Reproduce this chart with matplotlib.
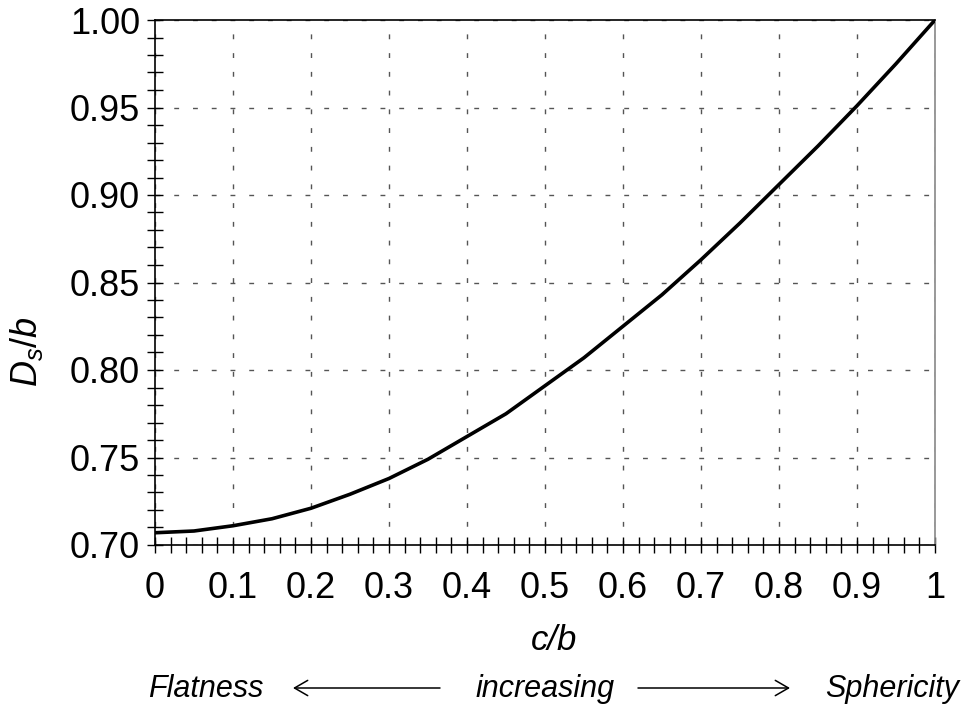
import matplotlib
matplotlib.use("Agg")
import matplotlib.pyplot as plt
from matplotlib.ticker import MultipleLocator
from matplotlib.patches import FancyArrowPatch

plt.rcParams['font.family'] = ['Liberation Sans', 'DejaVu Sans']
plt.rcParams['mathtext.fontset'] = 'custom'
plt.rcParams['mathtext.it'] = 'Liberation Sans:italic'
plt.rcParams['mathtext.rm'] = 'Liberation Sans'

cb = [0.0, 0.05, 0.1, 0.15, 0.2, 0.25, 0.3, 0.35, 0.4, 0.45, 0.5,
      0.55, 0.6, 0.65, 0.7, 0.75, 0.8, 0.85, 0.9, 0.95, 1.0]
dsb = [0.707, 0.708, 0.711, 0.715, 0.721, 0.729, 0.738, 0.749, 0.762, 0.775, 0.791,
       0.807, 0.825, 0.843, 0.863, 0.884, 0.906, 0.928, 0.951, 0.975, 1.0]

xticks = [0, 0.1, 0.2, 0.3, 0.4, 0.5, 0.6, 0.7, 0.8, 0.9, 1.0]
xticklabels = ['0', '0.1', '0.2', '0.3', '0.4', '0.5', '0.6', '0.7', '0.8', '0.9', '1']
yticks = [0.70, 0.75, 0.80, 0.85, 0.90, 0.95, 1.00]
yticklabels = ['0.70', '0.75', '0.80', '0.85', '0.90', '0.95', '1.00']

W, H = 971, 707
fig = plt.figure(figsize=(W / 100, H / 100), dpi=100)
ax = fig.add_axes([155 / W, 1 - 545 / H, (935 - 155) / W, (545 - 20) / H])

ax.plot(cb, dsb, color='black', lw=2.6, solid_capstyle='butt', zorder=3)
ax.set_xlim(0, 1)
ax.set_ylim(0.70, 1.00)
ax.set_xticks(xticks)
ax.set_xticklabels(xticklabels)
ax.set_yticks(yticks)
ax.set_yticklabels(yticklabels)
ax.xaxis.set_minor_locator(MultipleLocator(0.02))
ax.yaxis.set_minor_locator(MultipleLocator(0.01))
ax.tick_params(axis='both', which='both', direction='inout', length=11.5, width=1,
               top=False, right=False, color='black')
ax.tick_params(axis='x', which='major', labelsize=26, pad=13)
ax.tick_params(axis='y', which='major', labelsize=26, pad=5)

ax.grid(True, which='major', color='#555555', linestyle=(0, (3.5, 10)), lw=1)
for s in ['left', 'bottom', 'top']:
    ax.spines[s].set_color('black')
    ax.spines[s].set_linewidth(1.2)
ax.spines['right'].set_color('#888888')
ax.spines['right'].set_linewidth(1.2)

ax.set_ylabel(r'$D_s/b$', fontsize=26)
ax.yaxis.set_label_coords((45 - 155) / 780, (545 - 352) / 525)
ax.set_xlabel('c/b', fontsize=25, fontstyle='italic')
ax.xaxis.set_label_coords((554 - 155) / 780, (545 - 624) / 525)

ty = 1 - 697 / H
fig.text(206 / W, ty, 'Flatness', fontsize=22, fontstyle='italic', ha='center', va='baseline')
fig.text(545 / W, ty, 'increasing', fontsize=22, fontstyle='italic', ha='center', va='baseline')
fig.text(892 / W, ty, 'Sphericity', fontsize=22, fontstyle='italic', ha='center', va='baseline')
ay = 1 - 688 / H
fig.add_artist(FancyArrowPatch((440 / W, ay), (293 / W, ay), transform=fig.transFigure,
               arrowstyle='->,head_length=9.5,head_width=5.5', color='black', lw=1.1,
               shrinkA=0, shrinkB=0))
fig.add_artist(FancyArrowPatch((638 / W, ay), (790 / W, ay), transform=fig.transFigure,
               arrowstyle='->,head_length=9.5,head_width=5.5', color='black', lw=1.1,
               shrinkA=0, shrinkB=0))

fig.savefig('out.png', dpi=100)
